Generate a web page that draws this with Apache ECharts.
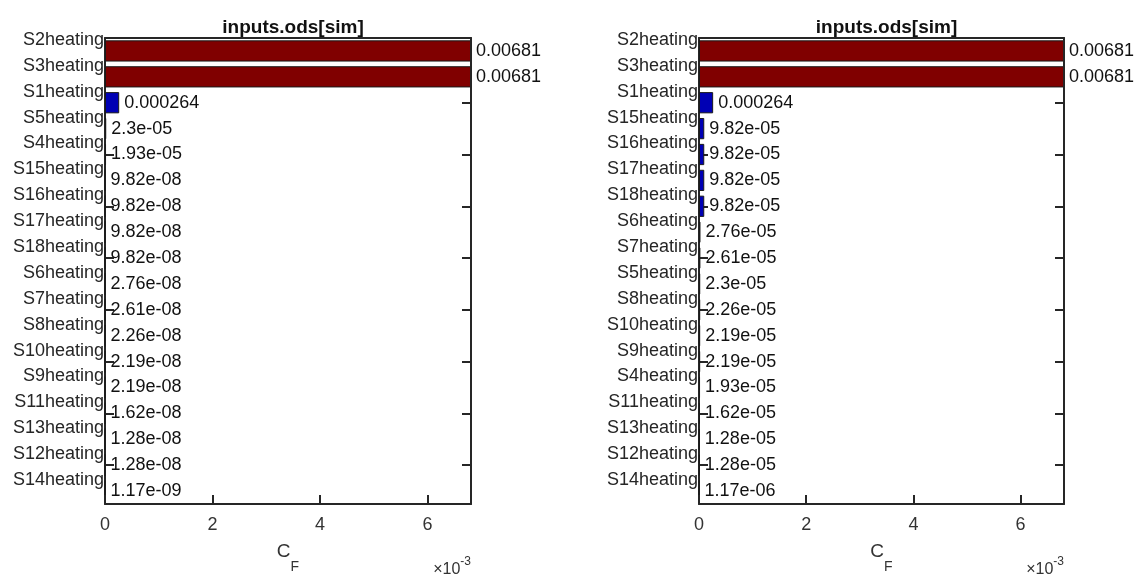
<!DOCTYPE html>
<html>
<head>
<meta charset="utf-8">
<title>inputs.ods[sim]</title>
<script src="https://cdn.jsdelivr.net/npm/echarts@6/dist/echarts.min.js"></script>
<style>
  html, body { margin: 0; padding: 0; background: #fff; }
  #chart { width: 1138px; height: 579px; }
</style>
</head>
<body>
<div id="chart"></div>
<script>
// --- data ---
const leftCats = ['S2heating', 'S3heating', 'S1heating', 'S5heating', 'S4heating', 'S15heating',
  'S16heating', 'S17heating', 'S18heating', 'S6heating', 'S7heating', 'S8heating',
  'S10heating', 'S9heating', 'S11heating', 'S13heating', 'S12heating', 'S14heating'];
const leftVals = [0.00681, 0.00681, 0.000264, 2.3e-05, 1.93e-05, 9.82e-08,
  9.82e-08, 9.82e-08, 9.82e-08, 2.76e-08, 2.61e-08, 2.26e-08,
  2.19e-08, 2.19e-08, 1.62e-08, 1.28e-08, 1.28e-08, 1.17e-09];

const rightCats = ['S2heating', 'S3heating', 'S1heating', 'S15heating', 'S16heating', 'S17heating',
  'S18heating', 'S6heating', 'S7heating', 'S5heating', 'S8heating', 'S10heating',
  'S9heating', 'S4heating', 'S11heating', 'S13heating', 'S12heating', 'S14heating'];
const rightVals = [0.00681, 0.00681, 0.000264, 9.82e-05, 9.82e-05, 9.82e-05,
  9.82e-05, 2.76e-05, 2.61e-05, 2.3e-05, 2.26e-05, 2.19e-05,
  2.19e-05, 1.93e-05, 1.62e-05, 1.28e-05, 1.28e-05, 1.17e-06];

const xMax = 0.00681;      // axis ends at the largest bar
const xStep = 0.002;       // tick labels 0 2 4 6 (x 10^-3)
const titleText = 'inputs.ods[sim]';

const FONT = '"Liberation Sans", Arial, Helvetica, sans-serif';
const AXIS_COLOR = '#262626';
const RED = '#800000';
const BLUE = '#0000b4';

// matlab-like %g with 3 significant digits
function fmtG(v) {
  const e = Math.floor(Math.log10(v));
  if (e < -4) {
    const m = (v / Math.pow(10, e)).toPrecision(3).replace(/\.?0+$/, '');
    return m + 'e-' + String(-e).padStart(2, '0');
  }
  return String(Number(v.toPrecision(3)));
}

// plot boxes in pixels: [left, right edge]
const panels = [
  { cats: leftCats, vals: leftVals, x0: 105, x1: 471 },
  { cats: rightCats, vals: rightVals, x0: 699, x1: 1064 }
];
const boxTop = 38, boxBottom = 517, W = 1138, H = 579;

const grids = [], xAxes = [], yAxes = [], series = [], titles = [], graphics = [];
const tickEveryOther = (i) => i >= 2 && i % 2 === 0;
const edgeLine = { show: true, onZero: false, lineStyle: { color: AXIS_COLOR, width: 2 } };

panels.forEach((p, k) => {
  grids.push({ left: p.x0, right: W - p.x1, top: boxTop, bottom: H - boxBottom });
  const mid = (p.x0 + p.x1) / 2;

  // bottom value axis
  xAxes.push({
    gridIndex: k, type: 'value', position: 'bottom', min: 0, max: xMax, interval: xStep, z: 5,
    splitLine: { show: false },
    axisLine: edgeLine,
    axisTick: { show: true, inside: true, length: 9, lineStyle: { color: AXIS_COLOR, width: 2 } },
    axisLabel: {
      color: '#333', fontSize: 18, fontFamily: FONT, margin: 12, showMaxLabel: false,
      formatter: (v) => String(Math.round(v * 1000))
    },
    name: '{c|C}{s|F}', nameLocation: 'middle', nameGap: 38,
    nameTextStyle: {
      rich: {
        c: { fontSize: 19, fontFamily: FONT, color: '#333', verticalAlign: 'top', lineHeight: 22 },
        s: { fontSize: 14, fontFamily: FONT, color: '#333', verticalAlign: 'bottom', lineHeight: 32 }
      }
    }
  });
  // top edge of the box
  xAxes.push({
    gridIndex: k, type: 'value', position: 'top', min: 0, max: xMax, z: 5,
    splitLine: { show: false }, axisTick: { show: false }, axisLabel: { show: false },
    axisLine: edgeLine
  });

  // left category axis with the names (names sit half a row above the bars);
  // kept under the bars so the S1 bar hides its tick
  yAxes.push({
    gridIndex: k, type: 'category', data: p.cats, inverse: true, position: 'left', z: 1,
    axisLine: edgeLine,
    axisTick: { show: true, inside: true, length: 9, alignWithLabel: true, interval: tickEveryOther,
      lineStyle: { color: AXIS_COLOR, width: 2 } },
    axisLabel: { interval: 0, color: '#262626', fontSize: 18, fontFamily: FONT, margin: 1,
      verticalAlign: 'bottom', lineHeight: 22 }
  });
  // right edge with ticks
  yAxes.push({
    gridIndex: k, type: 'category', data: p.cats, inverse: true, position: 'right', z: 5,
    axisLine: edgeLine,
    axisTick: { show: true, inside: true, length: 9, alignWithLabel: true, interval: tickEveryOther,
      lineStyle: { color: AXIS_COLOR, width: 2 } },
    axisLabel: { show: false }
  });

  const top = Math.max(...p.vals);
  series.push({
    type: 'bar', xAxisIndex: 2 * k, yAxisIndex: 2 * k,
    barCategoryGap: '18%',
    data: p.vals.map((v) => ({
      value: v,
      itemStyle: { color: v === top ? RED : BLUE, borderColor: '#1a1a1a', borderWidth: 1 }
    })),
    label: {
      show: true, position: 'right', distance: 5, color: '#111', fontSize: 18, fontFamily: FONT,
      formatter: (d) => fmtG(d.value)
    },
    silent: true
  });

  titles.push({
    text: titleText, left: mid, top: 13, textAlign: 'center',
    textStyle: { fontSize: 19, fontWeight: 'bold', fontFamily: FONT, color: '#111' }
  });

  // x 10^-3 multiplier
  graphics.push({
    type: 'text', right: W - p.x1, top: 556,
    style: {
      text: '{m|\u00d710}{e|-3}',
      rich: {
        m: { fontSize: 16, fontFamily: FONT, fill: '#333', verticalAlign: 'bottom', lineHeight: 22 },
        e: { fontSize: 12, fontFamily: FONT, fill: '#333', verticalAlign: 'top', lineHeight: 22 }
      }
    }
  });
});

const chart = echarts.init(document.getElementById('chart'));
chart.setOption({
  animation: false,
  backgroundColor: '#fff',
  title: titles,
  grid: grids,
  xAxis: xAxes,
  yAxis: yAxes,
  series: series,
  graphic: graphics
});
window.addEventListener('resize', () => chart.resize());
</script>
</body>
</html>
